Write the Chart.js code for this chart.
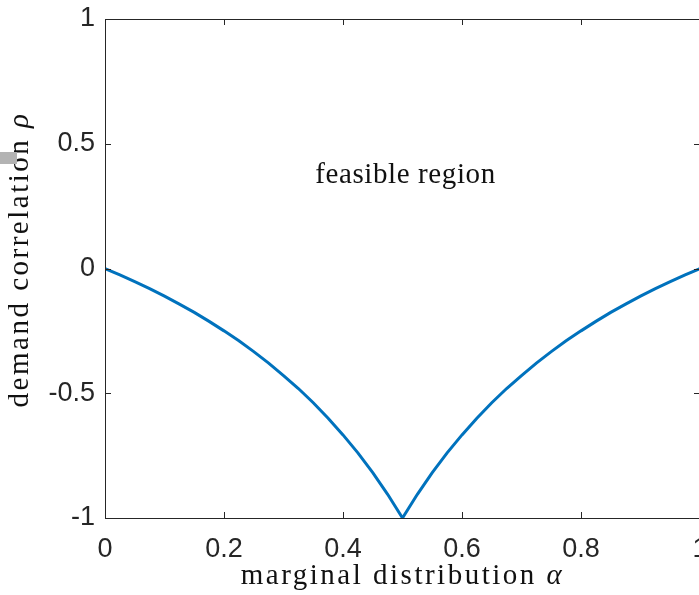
<!DOCTYPE html>
<html>
<head>
<meta charset="utf-8">
<script src="https://cdn.jsdelivr.net/npm/chart.js@4.4.0/dist/chart.umd.min.js"></script>
<style>
  html, body { margin: 0; padding: 0; background: #fff; overflow: hidden; }
  #wrap { position: relative; width: 720px; height: 595px; }
  #mark { position: absolute; left: 0; top: 152px; width: 17px; height: 12px; background: #b3b3b3; }
</style>
</head>
<body>
<div id="wrap">
  <canvas id="myChart" width="720" height="595"></canvas>
  <div id="mark"></div>
</div>
<script>
  // marginal distribution alpha and the smallest reachable demand correlation
  const alphaVals = [0, 0.025, 0.05, 0.075, 0.1, 0.125, 0.15, 0.175, 0.2, 0.225, 0.25,
    0.275, 0.3, 0.325, 0.35, 0.375, 0.4, 0.425, 0.45, 0.475, 0.5,
    0.525, 0.55, 0.575, 0.6, 0.625, 0.65, 0.675, 0.7, 0.725, 0.75,
    0.775, 0.8, 0.825, 0.85, 0.875, 0.9, 0.925, 0.95, 0.975, 1];
  const rhoVals = [0, -0.026, -0.053, -0.081, -0.111, -0.143, -0.176, -0.212, -0.25, -0.29, -0.333,
    -0.379, -0.429, -0.481, -0.538, -0.6, -0.667, -0.739, -0.818, -0.905, -1,
    -0.905, -0.818, -0.739, -0.667, -0.6, -0.538, -0.481, -0.429, -0.379, -0.333,
    -0.29, -0.25, -0.212, -0.176, -0.143, -0.111, -0.081, -0.053, -0.026, 0];
  const xTicks = [0, 0.2, 0.4, 0.6, 0.8, 1];
  const yTicks = [-1, -0.5, 0, 0.5, 1];
  const regionLabel = { text: 'feasible region', x: 0.5, y: 0.38 };
  const xTitle = ['marginal distribution ', 'α'];
  const yTitle = ['demand correlation ', 'ρ'];

  const axisColor = '#262626';
  const textColor = '#111';
  const serif = '"Liberation Serif"';

  // draws "plain text + italic symbol" centred at (0,0) of the current transform
  function drawTitle(ctx, parts, size, spacing) {
    ctx.letterSpacing = spacing + 'px';
    ctx.font = size + 'px ' + serif;
    const w1 = ctx.measureText(parts[0]).width;
    ctx.font = 'italic ' + size + 'px ' + serif;
    const w2 = ctx.measureText(parts[1]).width;
    let x = -(w1 + w2) / 2;
    ctx.textAlign = 'left';
    ctx.textBaseline = 'alphabetic';
    ctx.font = size + 'px ' + serif;
    ctx.fillText(parts[0], x, 0);
    ctx.font = 'italic ' + size + 'px ' + serif;
    ctx.fillText(parts[1], x + w1, 0);
    ctx.letterSpacing = '0px';
  }

  // box around the axes with ticks pointing inward, titles and the region label
  const boxPlugin = {
    id: 'box',
    afterDraw(chart) {
      const ctx = chart.ctx;
      const a = chart.chartArea;
      const xs = chart.scales.x, ys = chart.scales.y;
      const len = 6;
      ctx.save();
      ctx.strokeStyle = axisColor;
      ctx.lineWidth = 1;
      ctx.beginPath();
      ctx.moveTo(a.left + 0.5, a.bottom + 0.5);
      ctx.lineTo(a.left + 0.5, a.top + 0.5);
      ctx.lineTo(a.right + 0.5, a.top + 0.5);
      ctx.lineTo(a.right + 0.5, a.bottom + 0.5);
      ctx.lineTo(a.left + 0.5, a.bottom + 0.5);
      xTicks.forEach(v => {
        const px = Math.round(xs.getPixelForValue(v)) + 0.5;
        ctx.moveTo(px, a.bottom); ctx.lineTo(px, a.bottom - len);
        ctx.moveTo(px, a.top); ctx.lineTo(px, a.top + len);
      });
      yTicks.forEach(v => {
        const py = Math.round(ys.getPixelForValue(v)) + 0.5;
        ctx.moveTo(a.left, py); ctx.lineTo(a.left + len, py);
        ctx.moveTo(a.right, py); ctx.lineTo(a.right - len, py);
      });
      ctx.stroke();

      ctx.fillStyle = textColor;
      ctx.letterSpacing = '0.6px';
      ctx.font = '29px ' + serif;
      ctx.textAlign = 'center';
      ctx.textBaseline = 'alphabetic';
      ctx.fillText(regionLabel.text, xs.getPixelForValue(regionLabel.x) + 3, ys.getPixelForValue(regionLabel.y) + 9);
      ctx.letterSpacing = '0px';

      // x title under the tick labels
      ctx.save();
      ctx.translate((a.left + a.right) / 2, a.bottom + 66);
      drawTitle(ctx, xTitle, 29, 2.5);
      ctx.restore();

      // y title, rotated
      ctx.save();
      ctx.translate(28, (a.top + a.bottom) / 2 - 9);
      ctx.rotate(-Math.PI / 2);
      drawTitle(ctx, yTitle, 29, 2.5);
      ctx.restore();
      ctx.restore();
    }
  };

  const ctx = document.getElementById('myChart').getContext('2d');
  new Chart(ctx, {
    type: 'line',
    data: {
      datasets: [{
        data: alphaVals.map((a, i) => ({ x: a, y: rhoVals[i] })),
        borderColor: '#0072BD',
        borderWidth: 3,
        pointRadius: 0,
        tension: 0,
        fill: false
      }]
    },
    options: {
      responsive: false,
      animation: false,
      layout: { padding: { left: 0, right: 20, top: 19, bottom: 0 } },
      plugins: { legend: { display: false }, tooltip: { enabled: false } },
      scales: {
        x: {
          type: 'linear',
          min: 0, max: 1,
          afterBuildTicks: s => { s.ticks = xTicks.map(v => ({ value: v })); },
          afterFit: s => { s.height = 77; s.paddingLeft = 0; s.paddingRight = 0; },
          grid: { display: false, drawTicks: false },
          border: { display: false },
          ticks: {
            color: axisColor, font: { family: 'Liberation Sans', size: 27 }, padding: 15, maxRotation: 0,
            callback: v => String(v)
          }
        },
        y: {
          type: 'linear',
          min: -1, max: 1,
          afterBuildTicks: s => { s.ticks = yTicks.map(v => ({ value: v })); },
          afterFit: s => { s.width = 105; s.paddingTop = 0; s.paddingBottom = 0; },
          grid: { display: false, drawTicks: false },
          border: { display: false },
          ticks: {
            color: axisColor, font: { family: 'Liberation Sans', size: 27 }, padding: 10,
            callback: v => String(v)
          }
        }
      }
    },
    plugins: [boxPlugin]
  });
</script>
</body>
</html>
